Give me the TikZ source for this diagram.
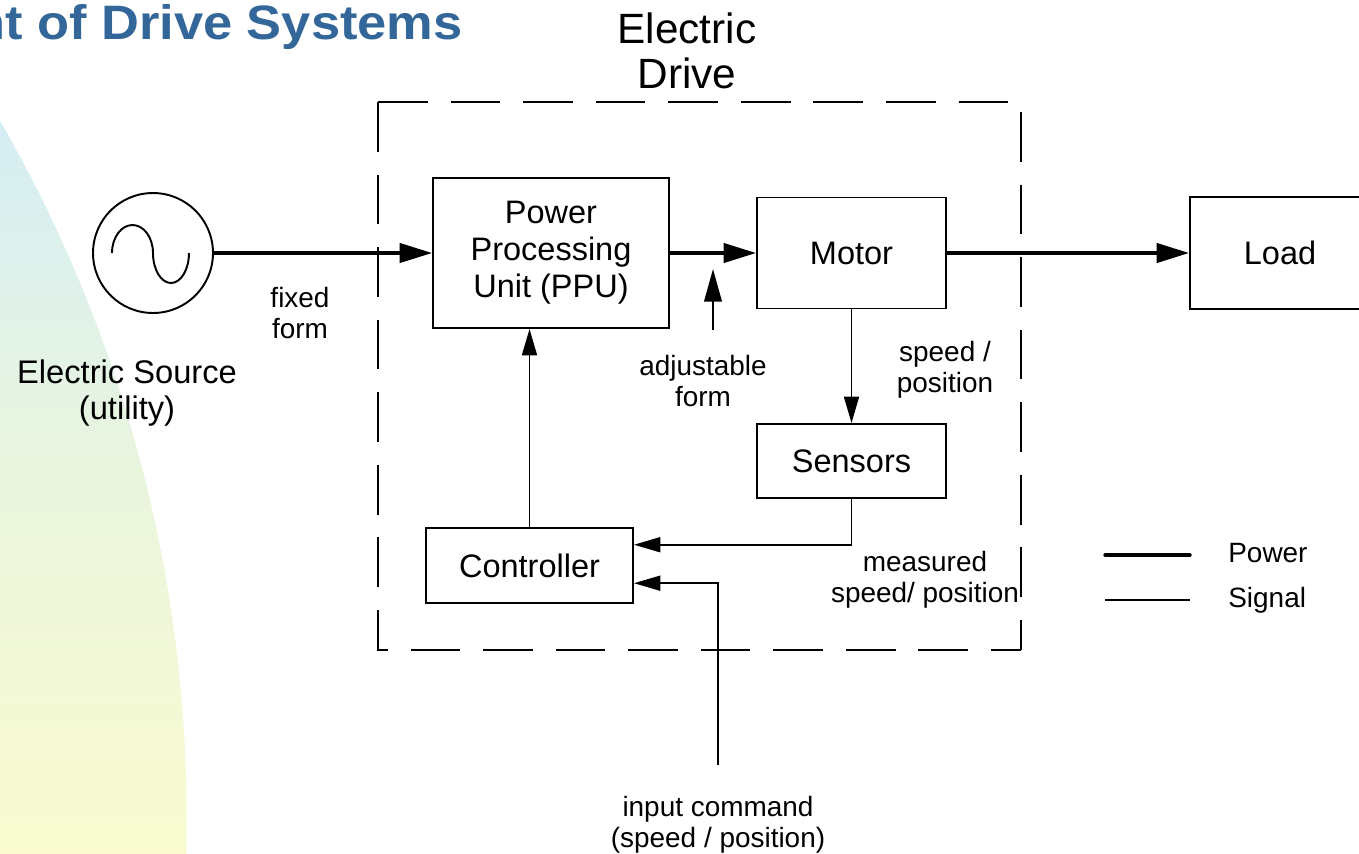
\documentclass[tikz,border=0pt]{standalone}
\usepackage{fontspec}
\setmainfont{Liberation Sans}
\usepackage{tikz}
\usetikzlibrary{calc, arrows.meta}
\definecolor{titleblue}{RGB}{51,102,153}
\definecolor{skyfill}{RGB}{212,237,245}
\definecolor{meadow}{RGB}{234,245,222}
\definecolor{sunfill}{RGB}{250,251,208}

\begin{document}
\begin{tikzpicture}[x=0.02cm, y=-0.02cm,
        block/.style={draw, line width=1.1pt, align=center, inner sep=0pt, font=\fontsize{18.5}{21}\selectfont},
        lbl/.style={align=center, inner sep=0pt, font=\fontsize{15.9}{17.6}\selectfont},
        power/.style={line width=1.9pt, -{Triangle[length=18.5pt, width=11pt]}},
        signal/.style={line width=1.1pt, -{Triangle[length=15pt, width=8.5pt]}}]
                \useasboundingbox (0,0) rectangle (1359,853);
                \clip (0,0) rectangle (1359,853);
                \begin{scope}
                    \clip (-1214,820) circle[radius=28.02cm];
                    \shade[top color=skyfill, bottom color=sunfill, middle color=meadow] (0,100) rectangle (200,853);
                \end{scope}
                \node[anchor=base east, inner sep=0pt, text=titleblue, font=\bfseries\fontsize{27.5}{30}\selectfont] (title) at (463,39) {\scalebox{1.085}[1]{nt of Drive Systems}};
                % electric drive frame
                \node[lbl, font=\fontsize{24.1}{25.6}\selectfont] (drivelbl) at (687,51) {Electric\\Drive};
                \coordinate (dtl) at (378,102);
                \coordinate (dbr) at (1021,650);
                \draw[line width=1.1pt, dash pattern=on 28.3pt off 13pt] (dtl) -- (dtl -| dbr) -- (dbr);
                \draw[line width=1.1pt, dash pattern=on 28.3pt off 13pt] (dtl) -- (dtl |- dbr) -- (dbr);
                % source
                \node[draw, circle, line width=1.1pt, minimum size=2.4cm, inner sep=0pt] (src) at (153,253) {};
                \draw[line width=1.1pt] (112,253) arc[start angle=180, end angle=0, x radius=0.41cm, y radius=0.56cm]
                    arc[start angle=180, end angle=360, x radius=0.36cm, y radius=0.6cm];
                \node[lbl, font=\fontsize{18.6}{20.5}\selectfont] (srclbl) at (127,393) {Electric Source\\(utility)};
                % blocks
                \node[block, minimum width=4.72cm, minimum height=3cm] (ppu) at (551,253) {Power\\Processing\\Unit (PPU)};
                \node[block, minimum width=3.78cm, minimum height=2.22cm] (motor) at (851.5,253) {Motor};
                \node[block, minimum width=3.6cm, minimum height=2.24cm] (load) at (1280,253) {Load};
                \node[block, minimum width=3.78cm, minimum height=1.48cm] (sensors) at (851.5,461) {Sensors};
                \node[block, minimum width=4.14cm, minimum height=1.5cm] (ctrl) at (529.5,565.5) {Controller};
                \node[lbl] (fixed) at (300,313) {fixed\\form};
                \node[lbl] (adjust) at (703,381) {adjustable\\form};
                \node[lbl] (speed) at (945,370) {speed /\\position};
                \node[lbl] (measured) at (925,580) {measured\\speed/ position};
                \node[lbl] (cmdlbl) at (718,825) {input command\\(speed / position)};
                \coordinate (adjfoot) at (713,330);
                \coordinate (adjtip) at (713,269);
                \coordinate (cmd) at (718,765);
                % power path
                \draw[power] (src.east) -- (ppu.west);
                \draw[power] (ppu.east) -- (motor.west);
                \draw[power] (motor.east) -- (load.west);
                % signals
                \draw[signal, -{Triangle[length=18.5pt, width=10pt]}] (adjfoot) -- (adjtip);
                \draw[signal] (motor.south) -- (sensors.north);
                \draw[signal] (sensors.south) |- ($(ctrl.north east)!0.23!(ctrl.south east)$);
                \draw[signal] (cmd) |- ($(ctrl.north east)!0.73!(ctrl.south east)$);
                \draw[signal] (ctrl.north) -- (ctrl.north |- ppu.south);
                % legend
                \coordinate (pwa) at (1105,555);
                \coordinate (pwb) at (1190,555);
                \coordinate (sga) at (1105,600);
                \coordinate (sgb) at (1190,600);
                \draw[line width=1.9pt, line cap=round] (pwa) -- (pwb);
                \draw[line width=1.1pt] (sga) -- (sgb);
                \node[lbl, anchor=west] (pwlbl) at (1228,553) {Power};
                \node[lbl, anchor=west] (sglbl) at (1228,600) {Signal};
            \end{tikzpicture}
\end{document}
